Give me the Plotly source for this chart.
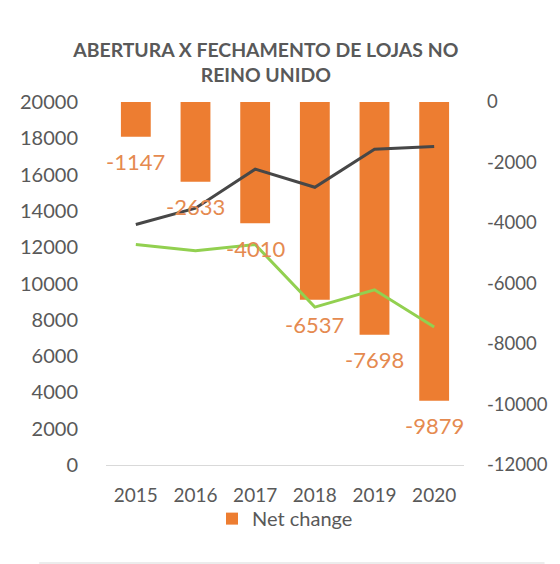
import plotly.graph_objects as go

# valores
anos = ['2015', '2016', '2017', '2018', '2019', '2020']
net_change = [-1147, -2633, -4010, -6537, -7698, -9879]
serie_cinza = [13250, 14150, 16300, 15300, 17400, 17550]
serie_verde = [12150, 11800, 12150, 8700, 9650, 7600]

ticks_esq = [0, 2000, 4000, 6000, 8000, 10000, 12000, 14000, 16000, 18000, 20000]
ticks_dir = [-12000, -10000, -8000, -6000, -4000, -2000, 0]

FONT = 'Lato'
GRAY = '#595959'
ORANGE = '#ED7D31'
LABEL = '#E58A50'

fig = go.Figure()

# barras no eixo da direita (0 a -12000)
fig.add_trace(go.Bar(
    x=anos, y=net_change, name='Net change',
    marker=dict(color=ORANGE, line=dict(width=0)),
    yaxis='y',
))

# linhas no eixo da esquerda (0 a 20000)
fig.add_trace(go.Scatter(
    x=anos, y=serie_cinza, mode='lines', showlegend=False,
    line=dict(color='#474747', width=3), yaxis='y2',
))
fig.add_trace(go.Scatter(
    x=anos, y=serie_verde, mode='lines', showlegend=False,
    line=dict(color='#92D050', width=3), yaxis='y2',
))

# rótulos das barras, abaixo da ponta de cada barra
# (x pelo índice da categoria, senão '2015' vira o número 2015)
for i, v in enumerate(net_change):
    fig.add_annotation(
        x=i, y=v, xref='x', yref='y', text=str(v), showarrow=False,
        yanchor='middle', yshift=-25,
        font=dict(family=FONT, size=22, color=LABEL),
    )

# a página tem 8px de margem no body, por isso 552x556
W, H = 552, 556
L, R, T, B = 73, 88, 94, 99
pw, ph = W - L - R, H - T - B

fig.update_layout(
    width=W, height=H,
    paper_bgcolor='white', plot_bgcolor='white',
    margin=dict(l=L, r=R, t=T, b=B),
    font=dict(family=FONT, color=GRAY, size=20),
    title=dict(
        text='ABERTURA X FECHAMENTO DE LOJAS NO<br>REINO UNIDO',
        font=dict(family=FONT, size=19.4, color=GRAY, weight='bold'),
        x=0.467, xanchor='center', y=0.912, yanchor='top',
    ),
    bargap=0.5,
    xaxis=dict(
        type='category', range=[-0.5, 5.5],
        showgrid=False, showline=True, linecolor='#d9d9d9', linewidth=1,
        ticks='outside', ticklen=13, tickcolor='white',
        tickfont=dict(size=19, color=GRAY),
    ),
    yaxis=dict(
        side='right', range=[-12000, 0], showgrid=False, zeroline=False,
        tickvals=ticks_dir, ticktext=[str(t) for t in ticks_dir],
        tickfont=dict(size=18.5, color=GRAY), ticklabelstandoff=22,
    ),
    yaxis2=dict(
        side='left', overlaying='y', range=[0, 20000], showgrid=False,
        zeroline=False,
        tickvals=ticks_esq, ticktext=[str(t) for t in ticks_esq],
        tickfont=dict(size=20, color=GRAY), ticklabelstandoff=27,
    ),
    legend=dict(
        orientation='h', x=0.5, xanchor='center', y=-0.094, yanchor='top',
        bgcolor='rgba(0,0,0,0)',
        font=dict(size=20, color=GRAY), itemwidth=30,
    ),
    shapes=[
        dict(type='line', xref='paper', yref='paper',
             x0=-L / pw, x1=1 + R / pw, y0=-(B - 1) / ph, y1=-(B - 1) / ph,
             line=dict(color='#d9d9d9', width=1)),
    ],
)

fig.write_html('out.html')
